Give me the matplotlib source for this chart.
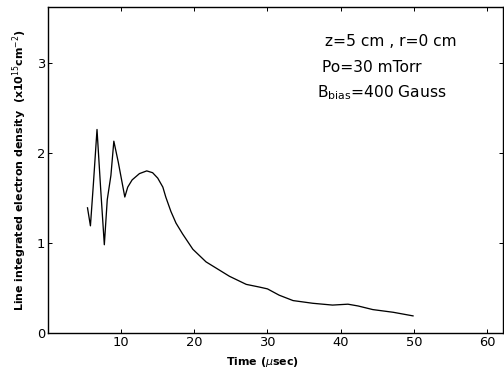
import numpy as np
import matplotlib
matplotlib.use("Agg")
import matplotlib.pyplot as plt

time_us = [5.4, 5.8, 6.2, 6.7, 7.2, 7.7, 8.1, 8.6, 9.0, 9.6, 10.5, 10.9, 11.5, 12.5, 13.5,
           14.3, 15.0, 15.7, 16.1, 16.8, 17.5, 18.4, 19.8, 21.6, 23.0, 24.8, 27.1, 28.9,
           30.0, 31.6, 33.5, 36.2, 38.9, 41.0, 42.4, 44.4, 47.2, 49.9]
density = [1.39, 1.19, 1.65, 2.26, 1.60, 0.98, 1.48, 1.75, 2.13, 1.90, 1.51, 1.62, 1.70, 1.77, 1.80,
           1.78, 1.72, 1.62, 1.51, 1.35, 1.22, 1.10, 0.93, 0.79, 0.72, 0.63, 0.54, 0.51,
           0.49, 0.42, 0.36, 0.33, 0.31, 0.32, 0.30, 0.26, 0.23, 0.19]

xticks = [10, 20, 30, 40, 50, 60]
yticks = [0, 1, 2, 3]

W, H = 504, 374
fig = plt.figure(figsize=(W/72, H/72), dpi=72)
ax = fig.add_axes([48/W, 41/H, 455/W, 326/H])

ax.plot(time_us, density, color='black', linewidth=1.3)

ax.set_xlim(0, 62.2)
ax.set_ylim(0, 3.62)
ax.set_xticks(xticks)
ax.set_yticks(yticks)
ax.set_yticklabels(['0', '1', '2', '3'])
ax.tick_params(direction='in', length=4, width=1, top=True, right=True,
               labelsize=13, pad=3)
for s in ax.spines.values():
    s.set_linewidth(1.4)

ax.set_xlabel('Time ($\\mu$sec)', fontsize=11, fontweight='bold')
ax.xaxis.set_label_coords(0.472, -0.068)
ax.set_ylabel('Line integrated electron density  (x10$^{15}$cm$^{-2}$)',
              fontsize=11, fontweight='bold')
ax.yaxis.set_label_coords(-0.042, 0.5)

# annotation block, placed in pixel positions from the top-left
fig.text(325/W, 1-42/H, 'z=5 cm , r=0 cm', fontsize=15.5, va='center')
fig.text(322/W, 1-67/H, 'Po=30 mTorr', fontsize=15.5, va='center')
fig.text(317/W, 1-93/H, 'B$_{\\mathrm{bias}}$=400 Gauss', fontsize=15.5, va='center')

fig.savefig('out.png', dpi=72)
